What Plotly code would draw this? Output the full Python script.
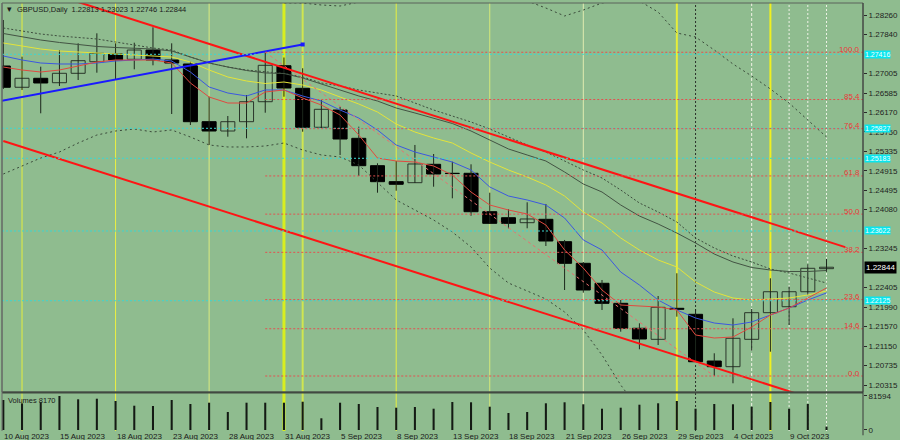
import plotly.graph_objects as go

BG = "#8FBC8F"
FONT = "Liberation Sans"

# ---------------- data ----------------
tick_idx = [0, 3, 6, 9, 12, 15, 18, 21, 24, 27, 30, 33, 36, 39, 42]
tick_labels = ["10 Aug 2023", "15 Aug 2023", "18 Aug 2023", "23 Aug 2023", "28 Aug 2023",
               "31 Aug 2023", "5 Sep 2023", "8 Sep 2023", "13 Sep 2023", "18 Sep 2023",
               "21 Sep 2023", "26 Sep 2023", "29 Sep 2023", "4 Oct 2023", "9 Oct 2023"]

opens = [1.27165, 1.26708, 1.26901, 1.26806, 1.27008, 1.27257, 1.27423, 1.27309, 1.27508, 1.27294,
         1.27208, 1.25969, 1.25769, 1.25969, 1.26398, 1.27171, 1.26686, 1.25849, 1.26220, 1.25612,
         1.25024, 1.24681, 1.24659, 1.25054, 1.24861, 1.24861, 1.24036, 1.23907, 1.23800, 1.23873,
         1.23392, 1.22928, 1.22499, 1.22069, 1.21533, 1.21296, 1.21962, 1.21833, 1.20830, 1.20708,
         1.21296, 1.21868, 1.21996, 1.22318, 1.22813]
highs = [1.28153, 1.27365, 1.27150, 1.27508, 1.27652, 1.27867, 1.27652, 1.27665, 1.27996, 1.27652,
         1.27257, 1.26506, 1.26091, 1.26542, 1.27460, 1.27347, 1.27116, 1.26435, 1.26291, 1.25862,
         1.25076, 1.25125, 1.25469, 1.25275, 1.25110, 1.25054, 1.24444, 1.24088, 1.24238, 1.24202,
         1.23429, 1.22956, 1.22570, 1.22140, 1.21640, 1.22226, 1.22714, 1.21947, 1.20996, 1.21747,
         1.21947, 1.22606, 1.22426, 1.22907, 1.23023]
lows = [1.26671, 1.26650, 1.26149, 1.26735, 1.26864, 1.27021, 1.26879, 1.27094, 1.27180, 1.26134,
        1.25898, 1.25469, 1.25647, 1.25612, 1.26162, 1.26506, 1.25754, 1.25834, 1.25254, 1.24803,
        1.24444, 1.24487, 1.24653, 1.24573, 1.24324, 1.23950, 1.23772, 1.23680, 1.23680, 1.23300,
        1.22355, 1.22297, 1.21926, 1.21460, 1.21082, 1.21174, 1.21782, 1.20809, 1.20508, 1.20352,
        1.21052, 1.21030, 1.21603, 1.22248, 1.22746]
closes = [1.26708, 1.26901, 1.26800, 1.27008, 1.27279, 1.27438, 1.27294, 1.27508, 1.27294, 1.27229,
          1.25969, 1.25769, 1.25969, 1.26398, 1.27180, 1.26692, 1.25849, 1.26235, 1.25597, 1.25024,
          1.24681, 1.24625, 1.25061, 1.24846, 1.24855, 1.24036, 1.23787, 1.23787, 1.23880, 1.23407,
          1.22928, 1.22355, 1.22069, 1.21533, 1.21303, 1.21983, 1.21940, 1.20815, 1.20708, 1.21318,
          1.21868, 1.22318, 1.22318, 1.22821, 1.22844]
volumes = [72000, 64000, 66500, 81594, 73700, 75100, 69600, 58300, 57600, 72000,
           62400, 65500, 43200, 65500, 65500, 65500, 67900, 28100, 65500, 62400,
           55200, 53500, 55200, 51100, 67200, 66500, 55900, 40800, 43200, 64100,
           66500, 61700, 51100, 53500, 60700, 64100, 69600, 51100, 62400, 61700,
           55900, 67200, 51100, 62400, 8170]

ma_red = [1.27143, 1.27079, 1.27036, 1.27079, 1.27165, 1.27251, 1.27294, 1.27294, 1.27294, 1.27229,
          1.26800, 1.26499, 1.26370, 1.26370, 1.26607, 1.26650, 1.26478, 1.26327, 1.26113, 1.25683,
          1.25189, 1.25125, 1.25103, 1.25018, 1.24824, 1.24459, 1.24180, 1.24073, 1.23987, 1.23751,
          1.23214, 1.22827, 1.22355, 1.22033, 1.22011, 1.21990, 1.21926, 1.21389, 1.21324, 1.21346,
          1.21560, 1.21818, 1.21968, 1.22183, 1.22398]
ma_blue = [1.27380, 1.27294, 1.27229, 1.27208, 1.27208, 1.27229, 1.27272, 1.27294, 1.27315, 1.27272,
           1.27036, 1.26714, 1.26585, 1.26521, 1.26650, 1.26650, 1.26521, 1.26413, 1.26220, 1.26048,
           1.25791, 1.25469, 1.25318, 1.25211, 1.25103, 1.24932, 1.24567, 1.24373, 1.24288, 1.24180,
           1.23901, 1.23429, 1.23214, 1.22741, 1.22462, 1.22140, 1.21926, 1.21754, 1.21646, 1.21603,
           1.21668, 1.21818, 1.21968, 1.22140, 1.22291]
ma_yellow = [1.27659, 1.27594, 1.27530, 1.27487, 1.27466, 1.27444, 1.27423, 1.27401, 1.27390, 1.27358,
             1.27251, 1.27079, 1.26929, 1.26843, 1.26789, 1.26821, 1.26757, 1.26650, 1.26499, 1.26349,
             1.26177, 1.25919, 1.25748, 1.25619, 1.25511, 1.25297, 1.25103, 1.24932, 1.24781, 1.24610,
             1.24373, 1.24030, 1.23794, 1.23472, 1.23214, 1.22999, 1.22849, 1.22527, 1.22312, 1.22183,
             1.22140, 1.22162, 1.22183, 1.22248, 1.22334]
ma_gray = [1.27863, 1.27788, 1.27723, 1.27670, 1.27627, 1.27584, 1.27562, 1.27551, 1.27530, 1.27487,
           1.27358, 1.27229, 1.27143, 1.27068, 1.27015, 1.27004, 1.26907, 1.26778, 1.26650, 1.26521,
           1.26413, 1.26263, 1.26156, 1.26048, 1.25930, 1.25769, 1.25576, 1.25383, 1.25254, 1.25125,
           1.24889, 1.24631, 1.24459, 1.24180, 1.23944, 1.23772, 1.23579, 1.23364, 1.23128, 1.22956,
           1.22838, 1.22784, 1.22752, 1.22752, 1.22774]
ma_gray_dot = [1.27981, 1.27916, 1.27852, 1.27809, 1.27777, 1.27745, 1.27680, 1.27616, 1.27551, 1.27508,
               1.27358, 1.27229, 1.27143, 1.27079, 1.27036, 1.27004, 1.26929, 1.26800, 1.26735, 1.26650,
               1.26585, 1.26521, 1.26370, 1.26220, 1.26091, 1.25962, 1.25812, 1.25640, 1.25469, 1.25318,
               1.25125, 1.24932, 1.24760, 1.24502, 1.24223, 1.24030, 1.23815, 1.23472, 1.23257, 1.23085,
               1.22956, 1.22806, 1.22720, 1.22613, 1.22505]
band_up = [1.30837, 1.30515, 1.30257, 1.30042, 1.29763, 1.29484, 1.29355, 1.29269, 1.29312, 1.29183,
           1.29055, 1.28969, 1.28840, 1.28539, 1.28561, 1.28518, 1.28518, 1.28475, 1.28453, 1.28539,
           1.28668, 1.28754, 1.28754, 1.28711, 1.28690, 1.28690, 1.28668, 1.28625, 1.28561, 1.28410,
           1.28239, 1.28367, 1.28518, 1.28561, 1.28561, 1.28324, 1.27874, 1.27788, 1.27508, 1.27208,
           1.26950, 1.26671, 1.26370, 1.26005, 1.25640]
band_dn = [1.24846, 1.25018, 1.25189, 1.25318, 1.25511, 1.25683, 1.25769, 1.25812, 1.25748, 1.25791,
           1.25640, 1.25469, 1.25426, 1.25426, 1.25447, 1.25511, 1.25361, 1.25254, 1.25211, 1.25039,
           1.24674, 1.24288, 1.24073, 1.23858, 1.23600, 1.23278, 1.22827, 1.22505, 1.22334, 1.22162,
           1.21883, 1.21496, 1.20959, 1.20315, 1.19778, 1.19220, 1.19284, 1.18941, 1.18748, 1.18705,
           1.18726, 1.18898, 1.19134, 1.19499, 1.19907]

# drawn objects (anchor points: bar index, price)
chan_up_x, chan_up_y = [0, 45], [1.29052, 1.23276]
chan_dn_x, chan_dn_y = [0, 44], [1.25554, 1.19924]
trend_x, trend_y = [-0.3, 16], [1.26403, 1.27627]
fib_x, fib_y = [14, 38], [1.27460, 1.20508]
fib_levels = [0.0, 14.6, 23.6, 38.2, 50.0, 61.8, 76.4, 85.4, 100.0]
cyan_levels = [1.27416, 1.25827, 1.25183, 1.23622, 1.22125]

vlines = [(1, "#e4ee3c", 1, None), (6, "#ecf040", 1, None), (11, "#dcea80", 1, None),
          (15, "#d8ee20", 3, None), (16, "#d0e650", 2, None), (21, "#e8f040", 1, None),
          (26, "#d4e878", 1, None), (31, "#e0ecb0", 1, None), (36, "#e6ee3a", 2, None),
          (41, "#f0f020", 2, None), (37, "#2a302a", 1, "2px,2px"),
          (40, "#f2f2e6", 1, "3px,2px"), (42, "#eef2e6", 1, "2px,2px"),
          (43, "#eef2e6", 1, "2px,2px"), (44, "#eef2e6", 1, "2px,2px")]

# visible price labels (the ones under the price boxes are covered in the reference)
price_ticks = [1.28260, 1.27840, 1.27005, 1.26585, 1.26170, 1.25750, 1.25335, 1.24915, 1.24495,
               1.24080, 1.23245, 1.22405, 1.21990, 1.21570, 1.21150, 1.20735, 1.20315]

# ---------------- geometry ----------------
XR = [-0.07, 45.95]
YR = [1.201647, 1.285177]
VR = [-2400, 88800]
n = len(opens)
idx = list(range(n))

fig = go.Figure()

# wicks
wx, wy = [], []
for i in idx:
    wx += [i, i, None]
    wy += [lows[i], highs[i], None]
fig.add_trace(go.Scatter(x=wx, y=wy, mode="lines", line=dict(color="#1c261c", width=1),
                         hoverinfo="skip", xaxis="x", yaxis="y"))

# bodies
base = [min(o, c) for o, c in zip(opens, closes)]
hgt = [max(abs(c - o), 0.00003) for o, c in zip(opens, closes)]
fill = ["#000000" if c < o else BG for o, c in zip(opens, closes)]
edge = ["#000000" if c < o else "#2a362a" for o, c in zip(opens, closes)]
fig.add_trace(go.Bar(x=idx, y=hgt, base=base, width=0.75,
                     marker=dict(color=fill, line=dict(color=edge, width=1)),
                     hoverinfo="skip", xaxis="x", yaxis="y"))

def line(y, color, width=1, dash=None, x=None):
    fig.add_trace(go.Scatter(x=x if x is not None else idx, y=y, mode="lines",
                             line=dict(color=color, width=width, dash=dash),
                             hoverinfo="skip", xaxis="x", yaxis="y"))

line(band_up, "#3a4a3a", 1, "2px,3px")
line(band_dn, "#3a4a3a", 1, "2px,3px")
line(ma_gray_dot, "#3e4e3e", 1, "2px,2px")
line(ma_gray, "#435343", 1)
line(ma_yellow, "#e4e43a", 1)
line(ma_blue, "#3c58e0", 1)
line(ma_red, "#e04a40", 1)
line(fib_y, "#e87070", 1, "3px,3px", x=fib_x)
line(chan_up_y, "#ff1414", 2, x=chan_up_x)
line(chan_dn_y, "#ff1414", 2, x=chan_dn_x)
line(trend_y, "#1a1aff", 2, x=trend_x)
fig.add_trace(go.Scatter(x=[trend_x[-1]], y=[trend_y[-1]], mode="markers",
                         marker=dict(symbol="square", size=4, color="#1a1aff"),
                         hoverinfo="skip", xaxis="x", yaxis="y"))

# volumes
fig.add_trace(go.Bar(x=idx, y=volumes, width=0.11, marker=dict(color="#141a14", line=dict(width=0)),
                     hoverinfo="skip", xaxis="x2", yaxis="y2"))

shapes = []
for (vi, col, w, dash) in vlines:
    shapes.append(dict(type="line", xref="x", yref="paper", x0=vi, x1=vi, y0=0, y1=1,
                       line=dict(color=col, width=w, dash=dash), layer="below"))
for lv in cyan_levels:
    shapes.append(dict(type="line", xref="x", yref="y", x0=XR[0], x1=XR[1], y0=lv, y1=lv,
                       line=dict(color="#3ed6d0", width=1, dash="2px,2px"), layer="above"))
fib_lo, fib_hi = fib_y[1], fib_y[0]
annotations = []
for f in fib_levels:
    lv = fib_lo + (fib_hi - fib_lo) * f / 100.0
    shapes.append(dict(type="line", xref="x", yref="y", x0=fib_x[0], x1=XR[1], y0=lv, y1=lv,
                       line=dict(color="#e45050", width=1, dash="2px,2px"), layer="above"))
    annotations.append(dict(x=XR[1], y=lv, xref="x", yref="y", text=f"{f:.1f}", showarrow=False,
                            xanchor="right", yanchor="middle", yshift=3, xshift=-1,
                            font=dict(family=FONT, size=8, color="#e83a3a")))

DOM_MAIN = [0.09112, 1.0]
DOM_VOL = [0.0, 0.08879]
# pane borders
shapes.append(dict(type="rect", xref="paper", yref="paper", x0=0, x1=1, y0=DOM_MAIN[0], y1=1,
                   line=dict(color="#5a625a", width=1), layer="above"))
shapes.append(dict(type="line", xref="paper", yref="paper", x0=0, x1=1, y0=0.0899, y1=0.0899,
                   line=dict(color="#414941", width=2), layer="above"))
shapes.append(dict(type="line", xref="paper", yref="paper", x0=1, x1=1, y0=-0.01, y1=1,
                   line=dict(color="#3a3a3a", width=1), layer="above"))
shapes.append(dict(type="line", xref="paper", yref="paper", x0=0, x1=0, y0=0, y1=1,
                   line=dict(color="#6a6a6a", width=1), layer="above"))

# right-axis boxes
for lv in cyan_levels:
    annotations.append(dict(x=1, y=lv, xref="paper", yref="y", text=f"{lv:.5f}", showarrow=False,
                            xanchor="left", yanchor="middle", xshift=1, bgcolor="#08e6ee",
                            borderpad=0, font=dict(family=FONT, size=7, color="#f4ffff")))
annotations.append(dict(x=1, y=closes[-1], xref="paper", yref="y", text=f"{closes[-1]:.5f}",
                        showarrow=False, xanchor="left", yanchor="middle", xshift=1, bgcolor="#000000",
                        borderpad=1, font=dict(family=FONT, size=8, color="#ffffff")))

# date labels
for ti, tl in zip(tick_idx, tick_labels):
    annotations.append(dict(x=ti, y=0, xref="x2", yref="paper", text=tl, showarrow=False,
                            xanchor="left", yanchor="top", xshift=-1, yshift=1,
                            font=dict(family=FONT, size=8, color="#1a1a1a")))

# titles
annotations.append(dict(x=0.004, y=1, xref="paper", yref="paper", text="▾", showarrow=False,
                        xanchor="left", yanchor="top", yshift=1,
                        font=dict(family=FONT, size=9, color="#1a1a1a")))
annotations.append(dict(x=0.015, y=1, xref="paper", yref="paper",
                        text=f"GBPUSD,Daily  {opens[-1]:.5f} {highs[-1]:.5f} {lows[-1]:.5f} {closes[-1]:.5f}",
                        showarrow=False, xanchor="left", yanchor="top", yshift=0,
                        font=dict(family=FONT, size=7.5, color="#1a1a1a")))
annotations.append(dict(x=0.005, y=DOM_VOL[1], xref="paper", yref="paper",
                        text=f"Volumes {volumes[-1]}", showarrow=False, xanchor="left", yanchor="top",
                        yshift=-1, font=dict(family=FONT, size=7.5, color="#1a1a1a")))

fig.update_layout(
    width=900, height=440,
    margin=dict(l=2, r=37, t=3, b=9, autoexpand=False),
    paper_bgcolor=BG, plot_bgcolor=BG,
    showlegend=False, hovermode=False, barmode="overlay",
    shapes=shapes, annotations=annotations,
    xaxis=dict(domain=[0, 1], range=XR, anchor="y", showgrid=False, zeroline=False,
               showticklabels=False, ticks="", fixedrange=True),
    yaxis=dict(domain=DOM_MAIN, range=YR, side="right", anchor="x", showgrid=False, zeroline=False,
               tickvals=price_ticks, ticktext=[f"{t:.5f}" for t in price_ticks],
               ticks="outside", ticklen=3, tickcolor="#2a2a2a",
               tickfont=dict(family=FONT, size=8, color="#1e1e1e"), automargin=False),
    xaxis2=dict(domain=[0, 1], range=XR, anchor="y2", showgrid=False, zeroline=False,
                showticklabels=False, ticks=""),
    yaxis2=dict(domain=DOM_VOL, range=VR, side="right", anchor="x2", showgrid=False, zeroline=False,
                tickvals=[0, max(volumes)], ticktext=["0", str(max(volumes))],
                ticks="outside", ticklen=3, tickcolor="#2a2a2a",
                tickfont=dict(family=FONT, size=8, color="#1e1e1e"), automargin=False),
)

fig.write_html("out.html", config={"displayModeBar": False},
               post_script="document.body.style.margin='0';document.body.style.overflow='hidden';"
                           "document.documentElement.style.background='" + BG + "';")
